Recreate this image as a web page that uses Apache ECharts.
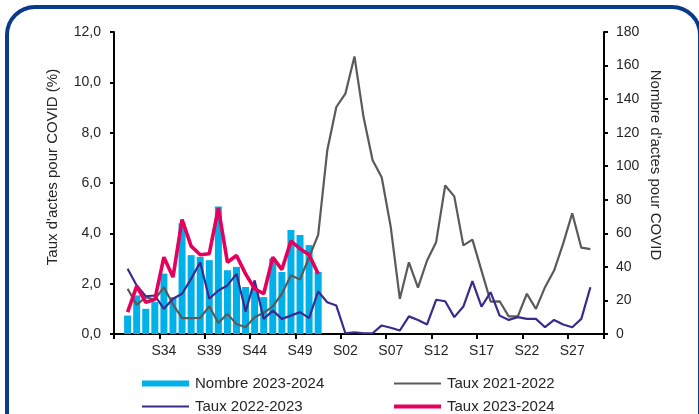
<!DOCTYPE html>
<html>
<head>
<meta charset="utf-8">
<script src="https://cdn.jsdelivr.net/npm/echarts@6/dist/echarts.min.js"></script>
<style>
  html, body { margin: 0; padding: 0; background: #ffffff; }
  #chart { width: 699px; height: 414px; }
</style>
</head>
<body>
<div id="chart"></div>
<script>
// Semaines de surveillance (S29 à S30 de l'année suivante)
const weeks = [
  'S29','S30','S31','S32','S33','S34','S35','S36','S37','S38','S39','S40',
  'S41','S42','S43','S44','S45','S46','S47','S48','S49','S50','S51','S52',
  'S01','S02','S03','S04','S05','S06','S07','S08','S09','S10','S11','S12',
  'S13','S14','S15','S16','S17','S18','S19','S20','S21','S22','S23','S24',
  'S25','S26','S27','S28','S29','S30'
];

// Nombre d'actes pour COVID, saison 2023-2024 (axe de droite)
const nombre2324 = [null,
  11, 23, 15, 19, 36, 22, 66, 47, 46, 44, 76,
  38, 40, 28, 27, 22, 45, 37, 62, 59, 53, 37
];

// Taux d'actes pour COVID (%), saison 2021-2022
const taux2122 = [null,
  1.80, 1.16, 1.46, 1.37, 1.86, 1.18, 0.63, 0.63, 0.64, 1.10, 0.44,
  0.80, 0.40, 0.27, 0.67, 0.84, 1.10, 1.60, 2.33, 2.17, 3.05, 3.94,
  7.29, 9.02, 9.55, 11.03, 8.62, 6.90, 6.23, 4.25, 1.40, 2.85, 1.84,
  2.92, 3.65, 5.90, 5.47, 3.52, 3.75, 2.52, 1.29, 1.30, 0.70, 0.70,
  1.60, 1.00, 1.86, 2.52, 3.59, 4.80, 3.43, 3.37
];

// Taux d'actes pour COVID (%), saison 2022-2023
const taux2223 = [null,
  2.59, 1.93, 1.50, 1.53, 1.00, 1.40, 1.60, 2.19, 2.85, 1.40, 1.73,
  1.93, 2.39, 0.89, 2.13, 0.60, 0.93, 0.60, 0.73, 0.87, 0.63, 1.69,
  1.26, 1.13, 0.03, 0.07, 0.03, 0.03, 0.34, 0.25, 0.14, 0.70, 0.56,
  0.38, 1.36, 1.30, 0.67, 1.09, 2.10, 1.09, 1.66, 0.73, 0.56, 0.67,
  0.60, 0.60, 0.27, 0.56, 0.38, 0.27, 0.60, 1.86
];

// Taux d'actes pour COVID (%), saison 2023-2024
const taux2324 = [null,
  0.87, 1.90, 1.26, 1.37, 3.05, 2.26, 4.55, 3.49, 3.15, 3.19, 5.00,
  2.85, 3.12, 2.39, 1.80, 1.60, 3.05, 2.56, 3.69, 3.39, 3.15, 2.39
];

const leftTicks = [0, 2, 4, 6, 8, 10, 12];
const rightTicks = [0, 20, 40, 60, 80, 100, 120, 140, 160, 180];

const FONT = 'Liberation Sans, Arial, sans-serif';
const TEXT = '#262626';
const C_BAR = '#00b0e8';
const C_2122 = '#5a5a5a';
const C_2223 = '#3b2a8e';
const C_2324 = '#e6005c';

const chart = echarts.init(document.getElementById('chart'), null, { renderer: 'canvas' });

function legendItem(name, left, top, h) {
  return {
    data: [name],
    left: left,
    top: top,
    padding: 0,
    itemWidth: 47,
    itemHeight: h,
    itemGap: 0,
    icon: 'rect',
    textStyle: { fontFamily: FONT, fontSize: 15, color: TEXT, padding: [0, 0, 0, 1] }
  };
}

const option = {
  animation: false,
  backgroundColor: '#ffffff',
  grid: { left: 114, right: 95, top: 32, bottom: 80 },
  legend: [
    legendItem('Nombre 2023-2024', 142, 376, 6),
    legendItem('Taux 2022-2023', 142, 399, 2),
    legendItem('Taux 2021-2022', 394, 376, 2),
    legendItem('Taux 2023-2024', 394, 399, 4)
  ],
  xAxis: {
    type: 'category',
    data: weeks,
    boundaryGap: true,
    axisLine: { show: true, lineStyle: { color: '#000', width: 2 } },
    axisTick: {
      show: true,
      length: 5,
      interval: (i) => i % 5 === 0,
      lineStyle: { color: '#000', width: 2 }
    },
    axisLabel: {
      interval: (i) => i % 5 === 0 && i > 0,
      margin: 10,
      fontFamily: FONT,
      fontSize: 14,
      color: TEXT
    },
    splitLine: { show: false }
  },
  yAxis: [
    {
      type: 'value',
      min: leftTicks[0],
      max: leftTicks[leftTicks.length - 1],
      interval: 2,
      position: 'left',
      axisLine: { show: true, lineStyle: { color: '#000', width: 2 } },
      axisTick: { show: true, length: 4, lineStyle: { color: '#000', width: 2 } },
      axisLabel: {
        margin: 13,
        fontFamily: FONT,
        fontSize: 14,
        color: TEXT,
        formatter: (v) => v.toFixed(1).replace('.', ',')
      },
      splitLine: { show: false }
    },
    {
      type: 'value',
      min: rightTicks[0],
      max: rightTicks[rightTicks.length - 1],
      interval: 20,
      position: 'right',
      axisLine: { show: true, lineStyle: { color: '#000', width: 2 } },
      axisTick: { show: true, length: 4, lineStyle: { color: '#000', width: 2 } },
      axisLabel: { margin: 12, fontFamily: FONT, fontSize: 14, color: TEXT },
      splitLine: { show: false }
    }
  ],
  series: [
    {
      name: 'Nombre 2023-2024',
      type: 'bar',
      yAxisIndex: 1,
      data: nombre2324,
      barWidth: 7,
      itemStyle: { color: C_BAR },
      z: 1
    },
    {
      name: 'Taux 2021-2022',
      type: 'line',
      yAxisIndex: 0,
      data: taux2122,
      showSymbol: false,
      symbol: 'none',
      itemStyle: { color: C_2122 },
      lineStyle: { color: C_2122, width: 2.2 },
      z: 2
    },
    {
      name: 'Taux 2022-2023',
      type: 'line',
      yAxisIndex: 0,
      data: taux2223,
      showSymbol: false,
      symbol: 'none',
      itemStyle: { color: C_2223 },
      lineStyle: { color: C_2223, width: 2.2 },
      z: 3
    },
    {
      name: 'Taux 2023-2024',
      type: 'line',
      yAxisIndex: 0,
      data: taux2324,
      showSymbol: false,
      symbol: 'none',
      itemStyle: { color: C_2324 },
      lineStyle: { color: C_2324, width: 3.6 },
      z: 4
    }
  ],
  graphic: [
    {
      type: 'rect',
      z: -1,
      silent: true,
      shape: { x: 7, y: 7, width: 693, height: 460, r: 28 },
      style: { fill: 'none', stroke: '#0a3a8a', lineWidth: 4 }
    },
    {
      type: 'text',
      x: 53,
      y: 167,
      rotation: Math.PI / 2,
      silent: true,
      style: {
        text: "Taux d'actes pour COVID (%)",
        font: '15px ' + FONT,
        fill: TEXT,
        textAlign: 'center',
        textVerticalAlign: 'middle'
      }
    },
    {
      type: 'text',
      x: 655,
      y: 165,
      rotation: -Math.PI / 2,
      silent: true,
      style: {
        text: "Nombre d'actes pour COVID",
        font: '15px ' + FONT,
        fill: TEXT,
        textAlign: 'center',
        textVerticalAlign: 'middle'
      }
    }
  ]
};

chart.setOption(option);
</script>
</body>
</html>
